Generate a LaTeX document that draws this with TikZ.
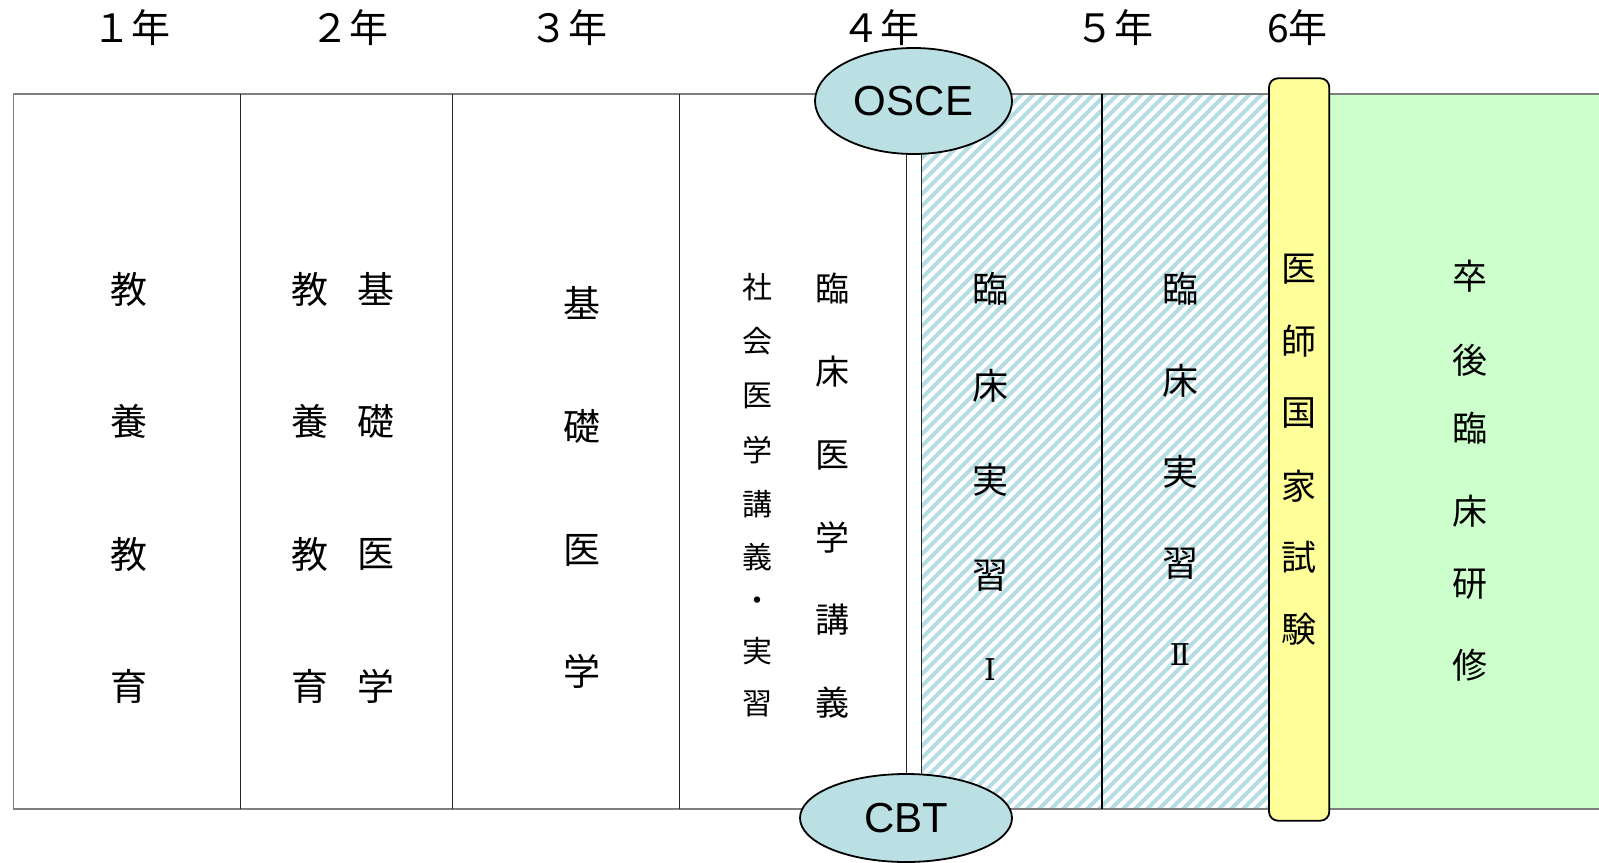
\documentclass[tikz,border=0pt]{standalone}
\usepackage{fontspec}
\usetikzlibrary{shapes.geometric}
\newfontfamily\jpf{Noto Sans CJK JP}
\newfontfamily\latf{Liberation Sans}
\newfontfamily\romf{DejaVu Serif}
\definecolor{hatchc}{HTML}{B4DCE2}
\definecolor{ellc}{HTML}{BAE0E4}
\definecolor{yel}{HTML}{FFFF99}
\definecolor{grn}{HTML}{CCFFCC}
\definecolor{framec}{HTML}{7F7F7F}
\begin{document}
\begin{tikzpicture}[x=1bp,y=-1bp,
  jp/.style={font=\jpf\fontsize{#1bp}{#1bp}\selectfont, inner sep=0pt},
  jp/.default=37,
  rom/.style={font=\romf\fontsize{30bp}{30bp}\selectfont, inner sep=0pt},
  yearlbl/.style={font=\jpf\fontsize{39bp}{39bp}\selectfont, inner sep=0pt},
  frameline/.style={draw=framec, line width=1.6bp},
  divline/.style={draw=black!85, line width=1bp},
  hatchline/.style={draw=hatchc, line width=4bp},
  exam/.style={ellipse, draw=black, line width=1.8bp, fill=ellc,
    font=\latf\fontsize{42bp}{42bp}\selectfont, inner sep=0pt},
  yelbox/.style={draw=black, line width=1.8bp, fill=yel, rounded corners=9bp}]
\useasboundingbox (0,0) rectangle (1599,862);
% hatched area
\begin{scope}
  \clip (921.7,93.7) rectangle (1269,809);
  \foreach \i in {196,208,...,1280} \draw[hatchline] (\i,812) -- ++(722,-722);
\end{scope}
% green area
\fill[grn] (1329,93.7) rectangle (1599,809);
% frame lines
\draw[frameline] (13.3,93.7) -- (1599,93.7);
\draw[frameline] (13.3,809) -- (1599,809);
\draw[frameline] (13.3,93.7) -- (13.3,809);
% column dividers
\draw[divline] (240.7,93.7) -- (240.7,809);
\draw[divline] (452.3,93.7) -- (452.3,809);
\draw[divline] (679.3,93.7) -- (679.3,809);
\draw[divline] (906,93.7) -- (906,809);
\draw[divline] (921.7,93.7) -- (921.7,809);
\draw[draw=black, line width=2bp] (1102.3,93.7) -- (1102.3,809);
% yellow box
\draw[yelbox] (1269,78.3) rectangle (1329.3,820.7);
% ellipses
\node[exam, minimum width=197bp, minimum height=106bp] (osce) at (913.5,101) {OSCE};
\node[exam, minimum width=212bp, minimum height=88bp] (cbt) at (906,818) {CBT};
% year labels
\node[yearlbl] (y1) at (131.7,28) {１年};
\node[yearlbl] (y2) at (349,28) {２年};
\node[yearlbl] (y3) at (568,28) {３年};
\node[yearlbl] (y4) at (880,28) {４年};
\node[yearlbl] (y5) at (1114,28) {５年};
\node[yearlbl] (y6) at (1297.5,28) {6年};
% column texts
\foreach \ch/\yy [count=\k] in {教/289,養/421,教/554,育/686}
  \node[jp] (a\k) at (129,\yy) {\ch};
\foreach \ch/\yy [count=\k] in {教/289,養/421,教/554,育/686}
  \node[jp] (b\k) at (310,\yy) {\ch};
\foreach \ch/\yy [count=\k] in {基/289,礎/421,医/554,学/686}
  \node[jp] (c\k) at (376,\yy) {\ch};
\foreach \ch/\yy [count=\k] in {基/303,礎/426,医/550,学/671}
  \node[jp] (d\k) at (582,\yy) {\ch};
\foreach \ch/\yy [count=\k] in {社/287,会/341,医/396,学/450,講/504,義/557,・/604,実/651,習/704}
  \node[jp=30] (e\k) at (757,\yy) {\ch};
\foreach \ch/\yy [count=\k] in {臨/289,床/372,医/455,学/538,講/620,義/703}
  \node[jp=34] (f\k) at (832,\yy) {\ch};
\foreach \ch/\yy [count=\k] in {臨/289,床/386,実/480,習/576}
  \node[jp=36] (g\k) at (990,\yy) {\ch};
\node[rom] (g5) at (990,670) {Ⅰ};
\foreach \ch/\yy [count=\k] in {臨/289,床/381,実/472,習/564}
  \node[jp=36] (h\k) at (1180,\yy) {\ch};
\node[rom] (h5) at (1180,655) {Ⅱ};
\foreach \ch/\yy [count=\k] in {医/269,師/341,国/413,家/486,試/557,験/629}
  \node[jp=35] (i\k) at (1299,\yy) {\ch};
\foreach \ch/\yy [count=\k] in {卒/276,後/360,臨/428,床/511,研/584,修/665}
  \node[jp=35] (j\k) at (1470,\yy) {\ch};
\end{tikzpicture}
\end{document}
